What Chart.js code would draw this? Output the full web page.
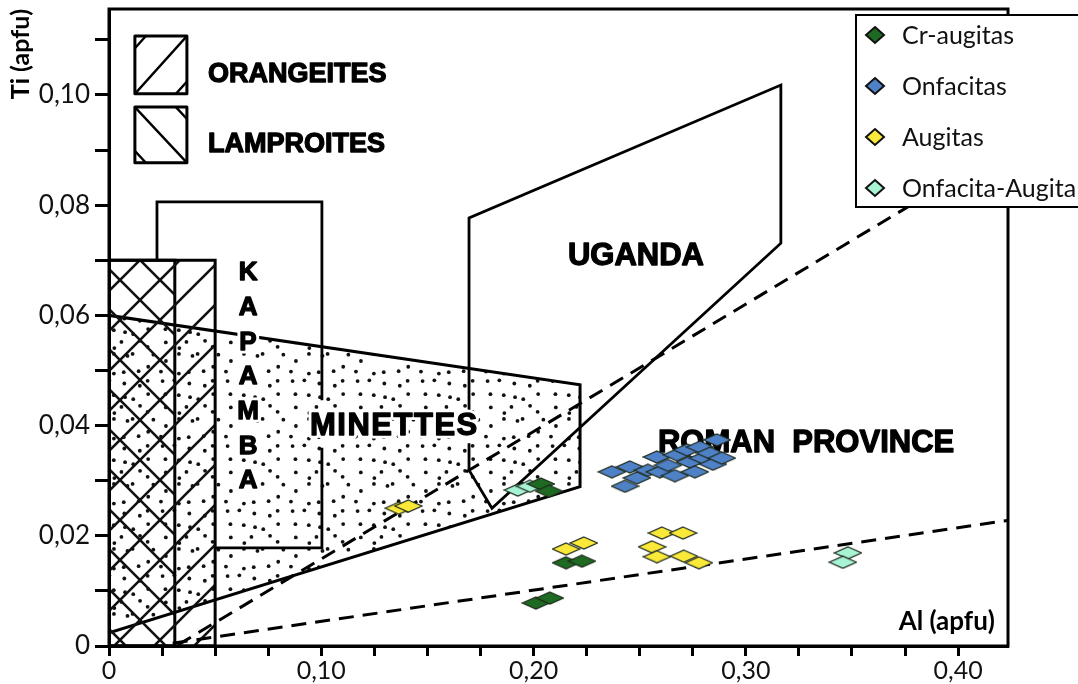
<!DOCTYPE html>
<html>
<head>
<meta charset="utf-8">
<script src="https://cdn.jsdelivr.net/npm/chart.js@4.4.0/dist/chart.umd.min.js"></script>
<style>
  html, body { margin: 0; padding: 0; background: #fff; }
  #wrap { width: 1078px; height: 684px; }
</style>
</head>
<body>
<div id="wrap"><canvas id="chart" width="1078" height="684"></canvas></div>
<script>
// Ti vs Al (apfu) in clinopyroxene

// axis limits and tick labels
const xMax = 0.4235;
const yMax = 0.1156;
const xTickLabels = ['0', '0,10', '0,20', '0,30', '0,40'];
const yTickLabels = ['0', '0,02', '0,04', '0,06', '0,08', '0,10'];

// analysed pyroxenes
const crAugAl = [0.2035, 0.2073, 0.2153, 0.2228, 0.2011, 0.2077];
const crAugTi = [0.0294, 0.0281, 0.0151, 0.0154, 0.0078, 0.0087];

const onfAl = [0.2369, 0.2431, 0.2454, 0.2487, 0.2539, 0.2581, 0.2595, 0.2633, 0.2666, 0.2675,
               0.2723, 0.2737, 0.2760, 0.2784, 0.2798, 0.2831, 0.2864, 0.2845, 0.2887];
const onfTi = [0.0316, 0.0290, 0.0325, 0.0305, 0.0319, 0.0343, 0.0316, 0.0328, 0.0309, 0.0347,
               0.0356, 0.0334, 0.0316, 0.0361, 0.0341, 0.0350, 0.0374, 0.0330, 0.0341];

const augAl = [0.1365, 0.1410, 0.2153, 0.2237, 0.2605, 0.2704, 0.2558, 0.2581, 0.2708, 0.2779];
const augTi = [0.0250, 0.0254, 0.0176, 0.0187, 0.0205, 0.0205, 0.0180, 0.0162, 0.0163, 0.0151];

const onfAugAl = [0.1926, 0.1983, 0.3481, 0.3457];
const onfAugTi = [0.0283, 0.0290, 0.0169, 0.0152];

// fields of the reference diagram (Al, Ti)
const orangeiteField = [[0, 0], [0, 0.07], [0.05, 0.07], [0.05, 0], [0, 0]];
const lamproiteField = [[0, 0], [0, 0.07], [0.031, 0.07], [0.031, 0], [0, 0]];
const minetteField = [[0, 0.0024], [0, 0.06], [0.2219, 0.0474], [0.2219, 0.0289], [0, 0.0024]];
const kapambaField = [[0.0226, 0.07], [0.0226, 0.0806], [0.1003, 0.0806], [0.1003, 0.0446],
                      [0.1003, null], [0.1003, 0.0360], [0.1003, 0.0178], [0.05, 0.0178]];
const ugandaField = [[0.1696, 0.0425], [0.1696, 0.0777], [0.3165, 0.1018], [0.3165, 0.0731],
                     [0.1804, 0.0250], [0.1696, 0.0319], [0.1696, 0.0368]];
const romanUpper = [[0.0325, 0.0002], [0.4235, 0.0906]];
const romanLower = [[0.0300, 0.0005], [0.4235, 0.0228]];

const seriesNames = ['Cr-augitas', 'Onfacitas', 'Augitas', 'Onfacita-Augita'];
const seriesColors = ['#1f6a22', '#4f81c7', '#fbe93a', '#a7f3d4'];

const canvas = document.getElementById('chart');
const ctx = canvas.getContext('2d');

const zip = (xs, ys) => xs.map((x, i) => ({ x: x, y: ys[i] }));
const toXY = pairs => pairs.map(p => ({ x: p[0], y: p[1] }));

// flattened diamond marker like the original plot
function flatDiamond(fill) {
  const w = 27, h = 12;
  const c = document.createElement('canvas');
  c.width = w + 2; c.height = h + 2;
  const g = c.getContext('2d');
  g.beginPath();
  g.moveTo(c.width / 2, 1);
  g.lineTo(w + 1, c.height / 2);
  g.lineTo(c.width / 2, h + 1);
  g.lineTo(1, c.height / 2);
  g.closePath();
  g.fillStyle = fill;
  g.fill();
  g.lineWidth = 1.2;
  g.strokeStyle = '#1d2a1d';
  g.stroke();
  return c;
}

// diagonal hatching: dir 1 = "/", -1 = "\"
function hatch(dir) {
  const s = 40;
  const c = document.createElement('canvas');
  c.width = s; c.height = s;
  const g = c.getContext('2d');
  g.strokeStyle = '#111';
  g.lineWidth = 2.6;
  g.beginPath();
  if (dir > 0) {
    g.moveTo(-3, s + 3); g.lineTo(s + 3, -3);
    g.moveTo(-3, 3); g.lineTo(3, -3);
    g.moveTo(s - 3, s + 3); g.lineTo(s + 3, s - 3);
  } else {
    g.moveTo(-3, -3); g.lineTo(s + 3, s + 3);
    g.moveTo(s - 3, -3); g.lineTo(s + 3, 3);
    g.moveTo(-3, s - 3); g.lineTo(3, s + 3);
  }
  g.stroke();
  return ctx.createPattern(c, 'repeat');
}

// stipple for the minette field (jittered grid, fixed seed)
function stipple() {
  const n = 5, cell = 13, s = n * cell;
  const c = document.createElement('canvas');
  c.width = s; c.height = s;
  const g = c.getContext('2d');
  g.fillStyle = '#111';
  let seed = 12345;
  const rnd = () => (seed = (seed * 16807) % 2147483647) / 2147483647;
  for (let i = 0; i < n; i++) {
    for (let j = 0; j < n; j++) {
      const px = i * cell + 2.5 + rnd() * (cell - 5);
      const py = j * cell + 2.5 + rnd() * (cell - 5);
      g.beginPath();
      g.arc(px, py, 1.9, 0, Math.PI * 2);
      g.fill();
    }
  }
  return ctx.createPattern(c, 'repeat');
}

function pointSet(label, xs, ys, color) {
  return {
    type: 'scatter',
    label: label,
    data: zip(xs, ys),
    pointStyle: flatDiamond(color),
    pointRadius: 6,
    showLine: false,
    order: 0,
    legendColor: color
  };
}

function fieldLine(pairs, extra) {
  return Object.assign({
    type: 'line',
    data: toXY(pairs),
    showLine: true,
    borderColor: '#000',
    borderWidth: 3,
    pointRadius: 0,
    fill: false,
    tension: 0,
    spanGaps: false,
    order: 1,
    isField: true
  }, extra);
}

const datasets = [
  pointSet(seriesNames[0], crAugAl, crAugTi, seriesColors[0]),
  pointSet(seriesNames[1], onfAl, onfTi, seriesColors[1]),
  pointSet(seriesNames[2], augAl, augTi, seriesColors[2]),
  pointSet(seriesNames[3], onfAugAl, onfAugTi, seriesColors[3]),
  fieldLine(kapambaField, { borderWidth: 2.8 }),
  fieldLine(ugandaField, { borderWidth: 2.8 }),
  fieldLine(romanUpper, { borderDash: [15, 9], borderWidth: 3 }),
  fieldLine(romanLower, { borderDash: [15, 9], borderWidth: 3 }),
  fieldLine(orangeiteField, { fill: 'shape', backgroundColor: hatch(1), order: 2 }),
  fieldLine(lamproiteField, { fill: 'shape', backgroundColor: hatch(-1), order: 2 }),
  fieldLine(minetteField, { fill: 'shape', backgroundColor: stipple(), order: 3 })
];

// labels of the fields (Al, Ti of the text baseline)
const fieldTexts = [
  { text: 'ORANGEITES', x: 0.0466, y: 0.1024, size: 27 },
  { text: 'LAMPROITES', x: 0.0466, y: 0.0897, size: 27 },
  { text: 'UGANDA', x: 0.2162, y: 0.0691, size: 31 },
  { text: 'MINETTES', x: 0.0947, y: 0.0383, size: 31, halo: true, spacing: 1.5 },
  { text: 'ROMAN  PROVINCE', x: 0.2586, y: 0.0352, size: 31 }
];
const kapamba = { text: 'KAPAMBA', x: 0.0655, y: 0.0664, step: 0.0063, size: 26 };
const keySquares = [
  { x0: 0.0122, x1: 0.0367, yTop: 0.1107, yBot: 0.1002, dir: 1 },
  { x0: 0.0122, x1: 0.0367, yTop: 0.0978, yBot: 0.0877, dir: -1 }
];

const labelsPlugin = {
  id: 'fieldLabels',
  beforeDatasetDraw(chart, args) {
    if (args.index !== 3) return;
    const c = chart.ctx, xs = chart.scales.x, ys = chart.scales.y;
    c.save();
    c.fillStyle = '#000';
    c.textBaseline = 'alphabetic';
    c.lineJoin = 'round';
    const heavy = (txt, px, py, halo) => {
      if (halo) {
        c.strokeStyle = '#fff';
        c.lineWidth = 7;
        c.strokeText(txt, px, py);
      }
      c.strokeStyle = '#000';
      c.lineWidth = 1.3;
      c.strokeText(txt, px, py);
      c.fillText(txt, px, py);
    };
    fieldTexts.forEach(t => {
      c.font = 'bold ' + t.size + 'px "Liberation Sans", Arial, sans-serif';
      c.letterSpacing = (t.spacing || 0) + 'px';
      c.textAlign = 'left';
      heavy(t.text, xs.getPixelForValue(t.x), ys.getPixelForValue(t.y), t.halo);
    });
    c.letterSpacing = '0px';
    c.font = 'bold ' + kapamba.size + 'px "Liberation Sans", Arial, sans-serif';
    c.textAlign = 'center';
    kapamba.text.split('').forEach((ch, i) => {
      heavy(ch, xs.getPixelForValue(kapamba.x), ys.getPixelForValue(kapamba.y - i * kapamba.step), true);
    });

    // key squares for the hatch patterns
    c.strokeStyle = '#000';
    keySquares.forEach(k => {
      const l = xs.getPixelForValue(k.x0), r = xs.getPixelForValue(k.x1);
      const t = ys.getPixelForValue(k.yTop), b = ys.getPixelForValue(k.yBot);
      const w = r - l;
      c.save();
      c.beginPath();
      c.rect(l, t, w, b - t);
      c.clip();
      c.lineWidth = 2.4;
      c.beginPath();
      [-(w - 11), 0, w - 11].forEach(d => {
        if (k.dir > 0) { c.moveTo(l + d, b); c.lineTo(r + d, t); }
        else { c.moveTo(l + d, t); c.lineTo(r + d, b); }
      });
      c.stroke();
      c.restore();
      c.lineWidth = 3;
      c.strokeRect(l, t, w, b - t);
    });

    // axis title inside the plot
    c.font = 'bold 26px Lato, sans-serif';
    c.textAlign = 'right';
    c.fillText('Al (apfu)', xs.getPixelForValue(0.4173), ys.getPixelForValue(0.0029));
    c.restore();
  },
  afterDraw(chart) {
    const c = chart.ctx, a = chart.chartArea;
    c.save();
    // frame
    c.strokeStyle = '#000';
    c.lineWidth = 3;
    c.strokeRect(a.left, a.top, a.right - a.left, a.bottom - a.top);
    // legend box
    const lx = a.right - 152, ly = a.top + 6;
    c.fillStyle = '#fff';
    c.fillRect(lx, ly, 240, 192);
    c.lineWidth = 2;
    c.strokeRect(lx, ly, 240, 192);
    c.font = '25px Lato, sans-serif';
    c.textAlign = 'left';
    c.textBaseline = 'middle';
    chart.data.datasets.filter(d => !d.isField).forEach((d, i) => {
      const cy = ly + 20 + i * 51, cx = lx + 19;
      c.beginPath();
      c.moveTo(cx, cy - 8);
      c.lineTo(cx + 9, cy);
      c.lineTo(cx, cy + 8);
      c.lineTo(cx - 9, cy);
      c.closePath();
      c.fillStyle = d.legendColor;
      c.fill();
      c.lineWidth = 2;
      c.strokeStyle = '#111';
      c.stroke();
      c.fillStyle = '#111';
      c.fillText(d.label, lx + 46, cy + 1);
    });
    c.restore();
  }
};

new Chart(ctx, {
  type: 'scatter',
  data: { datasets: datasets },
  options: {
    responsive: false,
    animation: false,
    events: [],
    layout: { padding: { top: 9, right: 70, bottom: 0, left: 0 } },
    plugins: {
      legend: { display: false },
      tooltip: { enabled: false }
    },
    scales: {
      x: {
        type: 'linear',
        min: 0,
        max: xMax,
        ticks: {
          stepSize: 0.025,
          includeBounds: false,
          autoSkip: false,
          maxRotation: 0,
          padding: 0,
          color: '#111',
          font: { family: 'Lato', size: 25 },
          callback: (v, i) => (i % 4 === 0 ? xTickLabels[i / 4] : '')
        },
        grid: { drawOnChartArea: false, drawTicks: true, tickLength: 10, tickWidth: 3, tickColor: '#000' },
        border: { display: true, width: 3, color: '#000' },
        afterFit: s => { s.height = 38; s.paddingLeft = 0; s.paddingRight = 0; }
      },
      y: {
        type: 'linear',
        min: 0,
        max: yMax,
        ticks: {
          stepSize: 0.01,
          includeBounds: false,
          autoSkip: false,
          padding: 5,
          color: '#111',
          font: { family: 'Lato', size: 26 },
          callback: (v, i) => (i % 2 === 0 ? yTickLabels[i / 2] : '')
        },
        grid: { drawOnChartArea: false, drawTicks: true, tickLength: 14, tickWidth: 3, tickColor: '#000' },
        border: { display: true, width: 3, color: '#000' },
        title: {
          display: true,
          text: 'Ti (apfu)',
          align: 'end',
          color: '#000',
          font: { family: 'Lato', size: 25, weight: 'bold' },
          padding: { top: 6, bottom: 0 }
        },
        afterFit: s => { s.width = 109; s.paddingTop = 0; s.paddingBottom = 0; }
      }
    }
  },
  plugins: [labelsPlugin]
});
</script>
</body>
</html>
